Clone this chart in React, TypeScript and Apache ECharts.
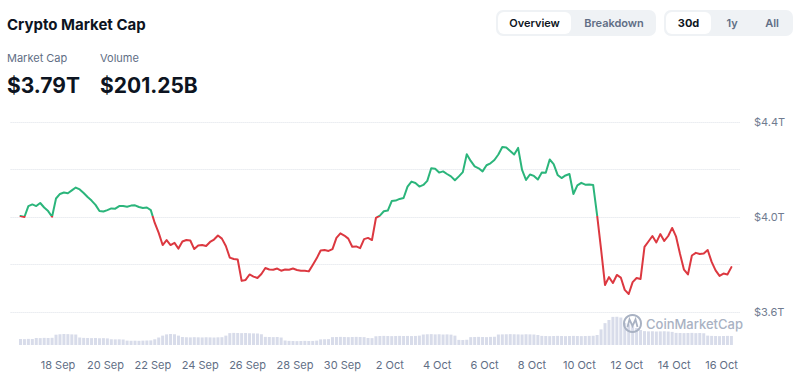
import React, { useEffect, useRef } from 'react';
import * as echarts from 'echarts';

// x axis tick labels, every 2 days starting 18 Sep (day 2 counted from 16 Sep 00:00)
const xTickLabels = ['18 Sep', '20 Sep', '22 Sep', '24 Sep', '26 Sep', '28 Sep', '30 Sep', '2 Oct', '4 Oct', '6 Oct', '8 Oct', '10 Oct', '12 Oct', '14 Oct', '16 Oct'];
const yTickValues = [3.6, 4.0, 4.4];
const yTickLabels = ['$3.6T', '$4.0T', '$4.4T'];

// sampling: first point 16 Sep 10:00, one point every 4 hours (days since 16 Sep 00:00)
const startDay = 10 / 24;
const stepDays = 4 / 24;

// total crypto market cap, trillions USD
const marketCap = [
  4.004, 4.000, 4.046, 4.053, 4.046, 4.059, 4.040, 4.025, 4.001, 4.078,
  4.097, 4.103, 4.100, 4.112, 4.124, 4.116, 4.101, 4.084, 4.069, 4.051,
  4.025, 4.023, 4.029, 4.036, 4.035, 4.046, 4.046, 4.043, 4.048, 4.049,
  4.042, 4.038, 4.040, 4.029, 3.975, 3.933, 3.882, 3.903, 3.882, 3.891,
  3.867, 3.897, 3.903, 3.901, 3.865, 3.880, 3.882, 3.878, 3.895, 3.905,
  3.922, 3.909, 3.878, 3.829, 3.823, 3.821, 3.731, 3.735, 3.758, 3.749,
  3.743, 3.760, 3.785, 3.779, 3.778, 3.783, 3.774, 3.779, 3.778, 3.783,
  3.777, 3.774, 3.774, 3.771, 3.798, 3.826, 3.859, 3.861, 3.857, 3.865,
  3.912, 3.931, 3.922, 3.909, 3.875, 3.876, 3.869, 3.907, 3.912, 3.903,
  3.996, 4.006, 4.024, 4.027, 4.067, 4.069, 4.076, 4.080, 4.128, 4.149,
  4.143, 4.128, 4.135, 4.152, 4.205, 4.203, 4.187, 4.192, 4.181, 4.171,
  4.155, 4.171, 4.189, 4.264, 4.236, 4.213, 4.205, 4.192, 4.218, 4.226,
  4.240, 4.263, 4.295, 4.293, 4.278, 4.263, 4.291, 4.198, 4.156, 4.179,
  4.173, 4.158, 4.187, 4.186, 4.242, 4.223, 4.177, 4.164, 4.175, 4.181,
  4.097, 4.133, 4.144, 4.136, 4.137, 4.135, 4.008, 3.865, 3.714, 3.747,
  3.722, 3.756, 3.745, 3.693, 3.676, 3.726, 3.743, 3.739, 3.874, 3.897,
  3.920, 3.893, 3.928, 3.899, 3.920, 3.954, 3.917, 3.844, 3.778, 3.758,
  3.838, 3.849, 3.844, 3.846, 3.861, 3.811, 3.775, 3.752, 3.762, 3.758,
  3.789,
];

// trading volume, billions USD
const volume = [
  96, 94, 98, 96, 112, 110, 114, 112, 115, 165,
  172, 176, 174, 170, 168, 120, 114, 112, 110, 112,
  108, 110, 106, 92, 90, 91, 88, 70, 68, 69,
  67, 70, 72, 74, 92, 120, 150, 170, 176, 172,
  150, 128, 124, 122, 125, 123, 121, 124, 122, 120,
  123, 125, 150, 190, 194, 192, 190, 192, 188, 186,
  184, 172, 130, 128, 126, 128, 120, 72, 66, 64,
  62, 64, 66, 64, 65, 70, 90, 92, 94, 126,
  128, 130, 128, 126, 128, 130, 128, 126, 112, 110,
  140, 144, 146, 144, 142, 144, 146, 144, 145, 143,
  145, 150, 168, 172, 174, 170, 172, 168, 170, 166,
  150, 82, 80, 84, 126, 128, 130, 128, 126, 130,
  132, 168, 170, 172, 174, 172, 170, 168, 172, 170,
  168, 160, 146, 144, 142, 144, 146, 144, 142, 144,
  146, 144, 142, 144, 146, 148, 160, 250, 350, 400,
  450, 452, 440, 352, 330, 300, 272, 240, 222, 218,
  220, 216, 218, 220, 216, 210, 194, 192, 190, 192,
  194, 190, 192, 188, 150, 146, 144, 142, 144, 146,
  144,
];

const headerTitle = 'Crypto Market Cap';
const statLabels = ['Market Cap', 'Volume'];
const statValues = ['$3.79T', '$201.25B'];
const viewTabs = ['Overview', 'Breakdown'];
const rangeTabs = ['30d', '1y', 'All'];

const GREEN = '#2bb57b';
const RED = '#dc3840';
const FONT = 'Inter, "Noto Sans", sans-serif';

export default function App() {
  const ref = useRef<HTMLDivElement>(null);

  useEffect(() => {
    if (!ref.current) return;
    const chart = echarts.init(ref.current, null, { renderer: 'svg' });
    const lineData = marketCap.map((v, i) => [startDay + i * stepDays, v]);
    const volData = volume.map((v, i) => [startDay + i * stepDays, v]);
    const base = 4.003;
    const xMin = 0;
    const xMax = 30.78;
    const gridLeft = 10.6;
    const gridRight = 60;
    const gridTop = 122;
    const gridHeight = 190;
    const yMin = 3.6;
    const yMax = 4.4;

    // colour split at the first value: green above, red below (global pixel gradient)
    const off = (yMax - base) / (yMax - yMin);
    const lineColor = new echarts.graphic.LinearGradient(
      0, gridTop, 0, gridTop + gridHeight,
      [
        { offset: 0, color: GREEN },
        { offset: off, color: GREEN },
        { offset: off, color: RED },
        { offset: 1, color: RED },
      ],
      true,
    );

    const txt = (text: string, x: number, y: number, font: string, fill: string, align = 'left') => ({
      type: 'text',
      x,
      y,
      z: 20,
      style: { text, font, fill, align, verticalAlign: 'middle' },
    });

    const xFormatter = (v: number) => {
      const k = Math.round(v);
      if (Math.abs(v - k) > 1e-6 || k % 2 !== 0 || k === 0) return '';
      return xTickLabels[k / 2 - 1] ?? '';
    };
    const yFormatter = (v: number) => {
      const idx = yTickValues.findIndex((t) => Math.abs(t - v) < 1e-6);
      return idx >= 0 ? yTickLabels[idx] : '';
    };

    chart.setOption({
      animation: false,
      textStyle: { fontFamily: FONT },
      grid: [
        { left: gridLeft, right: gridRight, top: gridTop, height: gridHeight },
        { left: gridLeft, right: gridRight, top: 305, height: 40 },
      ],
      xAxis: [
        {
          type: 'value', gridIndex: 0, min: xMin, max: xMax, interval: 2,
          axisLine: { show: false }, axisTick: { show: false }, axisLabel: { show: false }, splitLine: { show: false },
        },
        {
          type: 'value', gridIndex: 1, min: xMin, max: xMax, interval: 2,
          axisLine: { show: false }, axisTick: { show: false }, splitLine: { show: false },
          axisLabel: { formatter: xFormatter, color: '#616e85', fontSize: 11, margin: 14, fontFamily: FONT },
        },
      ],
      yAxis: [
        {
          type: 'value', gridIndex: 0, position: 'right', min: yMin, max: yMax, interval: 0.2,
          axisLine: { show: false }, axisTick: { show: false },
          splitLine: { show: true, lineStyle: { type: 'dotted', color: '#dde1e8', width: 1 } },
          axisLabel: { formatter: yFormatter, color: '#707b90', fontSize: 11, margin: 14, fontFamily: FONT },
        },
        {
          type: 'value', gridIndex: 1, min: 0, max: 640, show: false, splitLine: { show: false },
        },
      ],
      series: [
        {
          type: 'line', xAxisIndex: 0, yAxisIndex: 0, data: lineData,
          showSymbol: false, symbol: 'none', z: 5,
          lineStyle: { width: 2, color: lineColor, join: 'round', cap: 'round' },
        },
        {
          type: 'bar', xAxisIndex: 1, yAxisIndex: 1, data: volData,
          barWidth: 3, itemStyle: { color: '#d8dcea' }, z: 1,
        },
      ],
      graphic: [
        txt(headerTitle, 7, 24, `700 15px ${FONT}`, '#0d1421'),
        txt(statLabels[0], 7, 58, `400 11px ${FONT}`, '#616e85'),
        txt(statLabels[1], 100, 58, `400 11px ${FONT}`, '#616e85'),
        txt(statValues[0], 7, 85, `700 21px ${FONT}`, '#0d1421'),
        txt(statValues[1], 100, 85, `700 21px ${FONT}`, '#0d1421'),
        { type: 'rect', z: 10, shape: { x: 496, y: 10, width: 160, height: 26, r: 7 }, style: { fill: '#eff2f5' } },
        { type: 'rect', z: 11, shape: { x: 498, y: 12, width: 73, height: 22, r: 6 }, style: { fill: '#ffffff' } },
        txt(viewTabs[0], 534.5, 23, `600 11px ${FONT}`, '#0d1421', 'center'),
        txt(viewTabs[1], 614, 23, `600 11px ${FONT}`, '#616e85', 'center'),
        { type: 'rect', z: 10, shape: { x: 664, y: 10, width: 129, height: 26, r: 7 }, style: { fill: '#eff2f5' } },
        { type: 'rect', z: 11, shape: { x: 666, y: 12, width: 45, height: 22, r: 6 }, style: { fill: '#ffffff' } },
        txt(rangeTabs[0], 688.5, 23, `700 11px ${FONT}`, '#0d1421', 'center'),
        txt(rangeTabs[1], 732, 23, `600 11px ${FONT}`, '#616e85', 'center'),
        txt(rangeTabs[2], 772, 23, `600 11px ${FONT}`, '#616e85', 'center'),
        // CoinMarketCap watermark
        { type: 'circle', z: 30, shape: { cx: 632.5, cy: 323.5, r: 8.5 }, style: { fill: 'none', stroke: '#a9b2c3', lineWidth: 2 } },
        {
          type: 'polyline', z: 30,
          shape: { points: [[627.5, 327], [629.5, 319.5], [632.5, 326], [635.5, 319.5], [637.5, 327]] },
          style: { fill: 'none', stroke: '#a9b2c3', lineWidth: 1.8 },
        },
        txt('CoinMarketCap', 646, 324, `500 13px ${FONT}`, '#a9b2c3'),
      ],
    });

    return () => chart.dispose();
  }, []);

  return (
    <div
      ref={ref}
      style={{ position: 'fixed', left: 0, top: 0, width: 800, height: 376, background: '#ffffff' }}
    />
  );
}
